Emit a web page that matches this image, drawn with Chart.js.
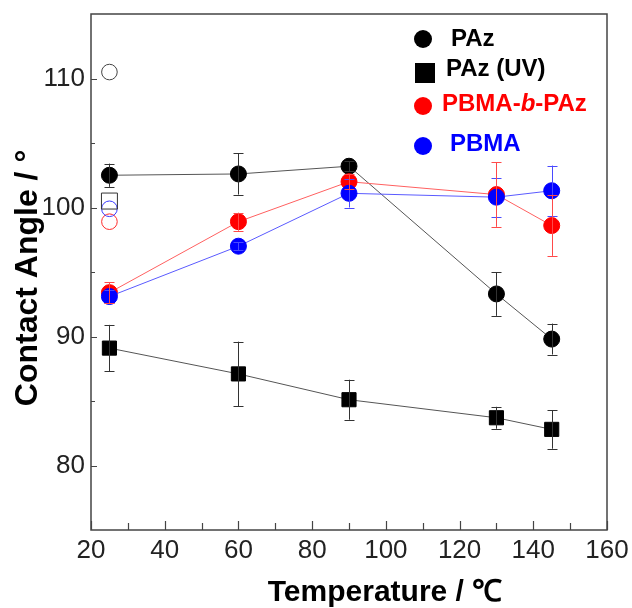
<!DOCTYPE html>
<html>
<head>
<meta charset="utf-8">
<script src="https://cdn.jsdelivr.net/npm/chart.js@4/dist/chart.umd.min.js"></script>
<style>
html,body{margin:0;padding:0;background:#fff;}
#wrap{width:632px;height:608px;}
</style>
</head>
<body>
<div id="wrap"><canvas id="c" width="632" height="608"></canvas></div>
<script>
// ---- data ----
const temps = [25, 60, 90, 130, 145];
const pazVals = [102.5, 102.6, 103.2, 93.3, 89.8];
const pazErr = [0.9, 1.6, 0.4, 1.7, 1.2];
const pazUvVals = [89.1, 87.1, 85.1, 83.7, 82.8];
const pazUvErr = [1.8, 2.5, 1.55, 0.85, 1.5];
const blockVals = [93.4, 98.9, 102.0, 101.0, 98.6];
const blockErr = [0.8, 0.7, 0.6, 2.5, 2.35];
const pbmaVals = [93.1, 97.0, 101.1, 100.8, 101.3];
const pbmaErr = [0.5, 0.3, 1.1, 1.5, 1.95];
// open markers (as-prepared, 25 °C)
const openTemp = [25];
const pazOpen = [110.5];
const pazUvOpen = [100.5];
const blockOpen = [98.9];
const pbmaOpen = [99.9];
// ticks
const xTickValues = [20, 40, 60, 80, 100, 120, 140, 160];
const xMinorValues = [30, 50, 70, 90, 110, 130, 150];
const yTickValues = [80, 90, 100, 110];
const yMinorValues = [85, 95, 105];
const legendLabels = ['PAz', 'PAz (UV)', 'PBMA-b-PAz', 'PBMA'];
const xTitle = 'Temperature / ℃';
const yTitle = 'Contact Angle / °';

const pts = (xs, ys) => xs.map((x, i) => ({x: x, y: ys[i]}));

const FONT = "'Liberation Sans', Arial, sans-serif";

const datasets = [
  {label: 'PBMA', data: pts(temps, pbmaVals), err: pbmaErr, errColor: '#4a4aff',
   borderColor: '#5a5aff', backgroundColor: '#0000ff', pointBackgroundColor: '#0000ff', pointBorderColor: '#0000ff',
   pointStyle: 'circle', pointRadius: 8, borderWidth: 1, pointBorderWidth: 1, showLine: true},
  {label: 'PBMA-b-PAz', data: pts(temps, blockVals), err: blockErr, errColor: '#ff4a4a',
   borderColor: '#ff6060', backgroundColor: '#ff0000', pointBackgroundColor: '#ff0000', pointBorderColor: '#ff0000',
   pointStyle: 'circle', pointRadius: 8, borderWidth: 1, pointBorderWidth: 1, showLine: true},
  {label: 'PAz', data: pts(temps, pazVals), err: pazErr, errColor: '#333333',
   borderColor: '#555555', backgroundColor: '#000', pointBackgroundColor: '#000', pointBorderColor: '#000',
   pointStyle: 'circle', pointRadius: 8, borderWidth: 1, pointBorderWidth: 1, showLine: true},
  {label: 'PAz (UV)', data: pts(temps, pazUvVals), err: pazUvErr, errColor: '#333333',
   borderColor: '#555555', backgroundColor: '#000', pointBackgroundColor: '#000', pointBorderColor: '#000',
   pointStyle: 'rect', pointRadius: 10, borderWidth: 1, pointBorderWidth: 1, showLine: true},
  {label: 'PAz open', data: pts(openTemp, pazOpen), borderColor: '#444', pointBackgroundColor: 'rgba(0,0,0,0)',
   pointBorderColor: '#444', pointStyle: 'circle', pointRadius: 7.8, pointBorderWidth: 1, showLine: false},
  {label: 'PAz (UV) open', data: pts(openTemp, pazUvOpen), borderColor: '#333', pointBackgroundColor: 'rgba(0,0,0,0)',
   pointBorderColor: '#333', pointStyle: 'rect', pointRadius: 11.3, pointBorderWidth: 1, showLine: false},
  {label: 'PBMA open', data: pts(openTemp, pbmaOpen), borderColor: '#3a3aff', pointBackgroundColor: 'rgba(0,0,0,0)',
   pointBorderColor: '#3a3aff', pointStyle: 'circle', pointRadius: 7.8, pointBorderWidth: 1, showLine: false},
  {label: 'PBMA-b-PAz open', data: pts(openTemp, blockOpen), borderColor: '#ff2a2a', pointBackgroundColor: 'rgba(0,0,0,0)',
   pointBorderColor: '#ff2a2a', pointStyle: 'circle', pointRadius: 7.8, pointBorderWidth: 1, showLine: false}
];

const decorPlugin = {
  id: 'decor',
  afterDatasetsDraw(chart) {
    const ctx = chart.ctx;
    const xs = chart.scales.x, ys = chart.scales.y;
    chart.data.datasets.forEach(ds => {
      if (!ds.err) return;
      ctx.save();
      ctx.strokeStyle = ds.errColor;
      ctx.lineWidth = 1;
      ds.data.forEach((p, i) => {
        const px = Math.round(xs.getPixelForValue(p.x)) + 0.5;
        const y1 = ys.getPixelForValue(p.y - ds.err[i]);
        const y2 = ys.getPixelForValue(p.y + ds.err[i]);
        ctx.beginPath();
        ctx.moveTo(px, y1); ctx.lineTo(px, y2);
        ctx.moveTo(px - 5, Math.round(y1) + 0.5); ctx.lineTo(px + 5, Math.round(y1) + 0.5);
        ctx.moveTo(px - 5, Math.round(y2) + 0.5); ctx.lineTo(px + 5, Math.round(y2) + 0.5);
        ctx.stroke();
      });
      ctx.restore();
    });
  },
  afterDraw(chart) {
    const ctx = chart.ctx;
    const a = chart.chartArea;
    const xs = chart.scales.x, ys = chart.scales.y;
    ctx.save();
    ctx.strokeStyle = '#444';
    ctx.lineWidth = 1.5;
    ctx.strokeRect(a.left, a.top, a.right - a.left, a.bottom - a.top);
    ctx.lineWidth = 1.2;
    ctx.beginPath();
    xTickValues.forEach(v => { const px = Math.round(xs.getPixelForValue(v)) + 0.5; ctx.moveTo(px, a.bottom); ctx.lineTo(px, a.bottom - 9); });
    xMinorValues.forEach(v => { const px = Math.round(xs.getPixelForValue(v)) + 0.5; ctx.moveTo(px, a.bottom); ctx.lineTo(px, a.bottom - 7); });
    yTickValues.forEach(v => { const py = Math.round(ys.getPixelForValue(v)) + 0.5; ctx.moveTo(a.left, py); ctx.lineTo(a.left + 6, py); });
    yMinorValues.forEach(v => { const py = Math.round(ys.getPixelForValue(v)) + 0.5; ctx.moveTo(a.left, py); ctx.lineTo(a.left + 4, py); });
    ctx.stroke();

    // axis titles
    ctx.fillStyle = '#000';
    ctx.font = 'bold 30px ' + FONT;
    ctx.textAlign = 'center';
    ctx.textBaseline = 'alphabetic';
    ctx.fillText(xTitle, 385, 601);
    ctx.save();
    ctx.translate(37, 278);
    ctx.rotate(-Math.PI / 2);
    ctx.font = 'bold 32px ' + FONT;
    ctx.fillText(yTitle, 0, 0);
    ctx.restore();

    // legend
    const colors = ['#000', '#000', '#ff0000', '#0000ff'];
    const rows = [
      {mx: 423, my: 39, tx: 451, ty: 46, shape: 'circle'},
      {mx: 425, my: 73, tx: 446, ty: 76, shape: 'square'},
      {mx: 423, my: 106, tx: 442, ty: 111, shape: 'circle'},
      {mx: 423, my: 146, tx: 450, ty: 151, shape: 'circle'}
    ];
    const LF = 'bold 24px ' + FONT;
    rows.forEach((r, i) => {
      ctx.fillStyle = colors[i];
      if (r.shape === 'circle') {
        ctx.beginPath(); ctx.arc(r.mx, r.my, 9, 0, Math.PI * 2); ctx.fill();
      } else {
        ctx.fillRect(r.mx - 10, r.my - 10, 20, 20);
      }
      ctx.textBaseline = 'alphabetic';
      ctx.textAlign = 'left';
      const label = legendLabels[i];
      const m = label.match(/^(.*-)(b)(-.*)$/);
      if (m) {
        let x = r.tx;
        ctx.font = LF;
        ctx.fillText(m[1], x, r.ty); x += ctx.measureText(m[1]).width;
        ctx.font = 'italic ' + LF;
        ctx.fillText(m[2], x, r.ty); x += ctx.measureText(m[2]).width;
        ctx.font = LF;
        ctx.fillText(m[3], x, r.ty);
      } else {
        ctx.font = LF;
        ctx.fillText(label, r.tx, r.ty);
      }
    });
    ctx.restore();
  }
};

new Chart(document.getElementById('c'), {
  type: 'scatter',
  data: {datasets: datasets},
  options: {
    responsive: false,
    devicePixelRatio: 1,
    animation: false,
    layout: {padding: {top: 14, right: 25, left: 0, bottom: 0}},
    plugins: {legend: {display: false}, tooltip: {enabled: false}},
    scales: {
      x: {
        type: 'linear', min: 20, max: 160, position: 'bottom',
        grid: {display: false, drawTicks: false},
        border: {display: false},
        afterBuildTicks: s => { s.ticks = xTickValues.map(v => ({value: v})); },
        afterFit: s => { s.height = 78; s.paddingLeft = 0; s.paddingRight = 0; },
        ticks: {font: {family: FONT, size: 26}, color: '#222', padding: 5, maxRotation: 0, autoSkip: false},
        title: {display: false}
      },
      y: {
        type: 'linear', min: 75, max: 115,
        grid: {display: false, drawTicks: false},
        border: {display: false},
        afterBuildTicks: s => { s.ticks = yTickValues.map(v => ({value: v})); },
        afterFit: s => { s.width = 91; s.paddingTop = 0; s.paddingBottom = 0; },
        ticks: {font: {family: FONT, size: 26}, color: '#222', padding: 6, autoSkip: false},
        title: {display: false}
      }
    }
  },
  plugins: [decorPlugin]
});
</script>
</body>
</html>
